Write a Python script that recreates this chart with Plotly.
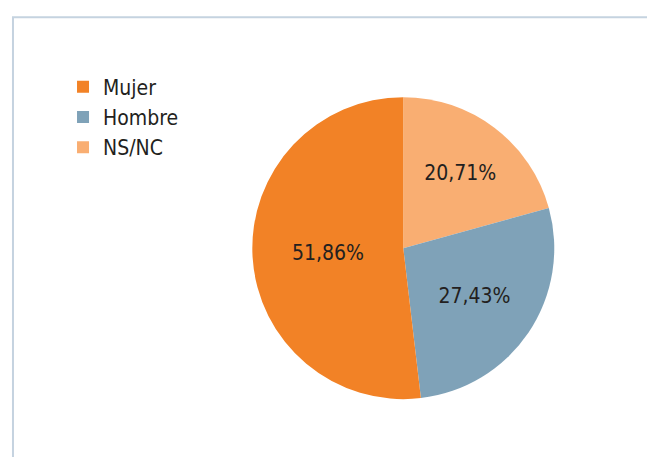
import plotly.graph_objects as go

# datos (orden en sentido horario desde las 12)
categorias = ["NS/NC", "Hombre", "Mujer"]
porcentajes = [20.71, 27.43, 51.86]
colores = ["#f9ae72", "#7fa2b8", "#f28226"]

FUENTE = "DejaVu Sans Condensed, Open Sans, sans-serif"

fig = go.Figure(go.Pie(
    labels=categorias,
    values=porcentajes,
    sort=False,
    direction="clockwise",
    rotation=0,
    marker=dict(colors=colores, line=dict(width=0)),
    texttemplate="%{value:.2f}%",
    textposition="inside",
    insidetextorientation="horizontal",
    textfont=dict(family=FUENTE, size=21, color="#231f20"),
    domain=dict(x=[0.373, 0.834], y=[0.144, 0.805]),
    hoverinfo="label+percent",
))

# marco gris claro
fig.add_shape(type="rect", xref="paper", yref="paper",
              x0=0.0076, x1=1.02, y0=-0.02, y1=0.980,
              line=dict(color="#c5d3e0", width=2))

fig.update_layout(
    width=655, height=457,
    margin=dict(l=0, r=0, t=0, b=0),
    paper_bgcolor="white",
    separators=",.",
    showlegend=True,
    legend=dict(
        x=0.084, y=0.872, xanchor="left", yanchor="top",
        traceorder="reversed",
        font=dict(family=FUENTE, size=21, color="#231f20"),
        tracegroupgap=0, itemwidth=30,
    ),
)

fig.write_html("out.html")
